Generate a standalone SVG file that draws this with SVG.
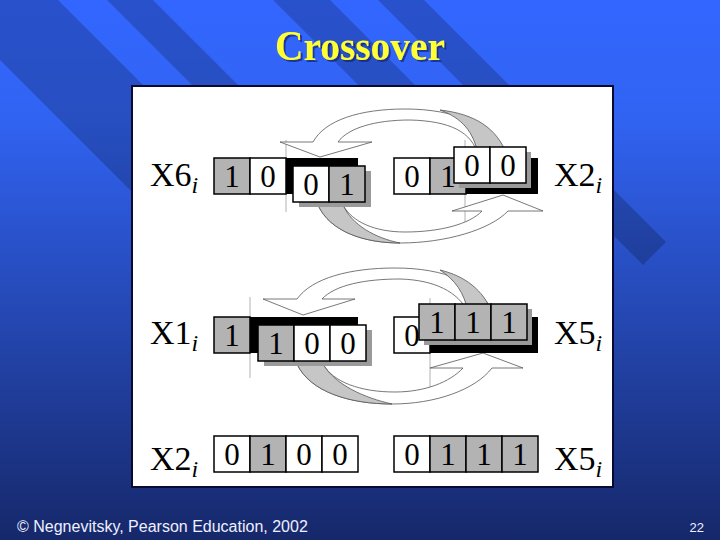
<svg xmlns="http://www.w3.org/2000/svg" width="720" height="540" viewBox="0 0 720 540">
<defs>
<linearGradient id="bg" x1="0" y1="0" x2="0" y2="1">
<stop offset="0" stop-color="#3366ff"/>
<stop offset="0.22" stop-color="#3163f2"/>
<stop offset="1" stop-color="#16286a"/>
</linearGradient>
<filter id="tshadow" x="-10%" y="-20%" width="130%" height="150%">
<feDropShadow dx="2" dy="2" stdDeviation="0.6" flood-color="#14246e" flood-opacity="0.7"/>
</filter>
<style>
.cw{fill:#ffffff;stroke:#000;stroke-width:1.5}
.cg{fill:#b3b3b3;stroke:#000;stroke-width:1.5}
.blk{fill:#000}
.shd{fill:#9a9a9a}
.dg{font-family:"Liberation Serif",serif;font-size:31px;fill:#000;text-anchor:middle}
.lbl{font-family:"Liberation Serif",serif;font-size:34px;fill:#000}
.sub{font-family:"Liberation Serif",serif;font-size:24px;font-style:italic}
.rib{fill:#fff;stroke:#555;stroke-width:0.8;stroke-linejoin:miter}
.ribg{fill:#c6c6c6;stroke:#555;stroke-width:0.8}
.cut{stroke:#a0a0a0;stroke-width:0.8;fill:none}
.stripe{fill:#000;opacity:0.2}
</style>
</defs>
<rect width="720" height="540" fill="url(#bg)"/>
<g id="stripes">
<polygon class="stripe" points="-60,0 58,0 483,425 424,484 -60,0"/>
<polygon class="stripe" points="107,0 153,0 530,377 507,400"/>
<polygon class="stripe" points="273,0 330,0 605,275 577,303"/>
<polygon class="stripe" points="378,0 424,0 666,242 643,265"/>
</g>
<text x="360" y="60" text-anchor="middle" font-family="Liberation Serif,serif" font-weight="bold" font-size="43" textLength="170" lengthAdjust="spacingAndGlyphs" fill="#ffff33" filter="url(#tshadow)">Crossover</text>
<rect id="panel" x="132" y="86" width="481" height="401" fill="#fff" stroke="#0a0a30" stroke-width="2"/>

<g id="connectors">
<path class="cut" d="M286,140 V212 M465,140 V222 M250,297 V378 M430,298 V395"/>
<path class="rib" d="M280,142 L313,142 C325,120 360,109 405,109 C455,109 495,125 507,155 L478,155 C472,132 450,121 410,120 C375,120 348,128 338,142 L372,142 L320,157 Z"/>
<path class="ribg" d="M507,155 C497,128 475,114 440,110 C462,118 474,132 478,155 Z"/>
<path class="rib" d="M318,205 C330,232 365,243 400,243 C445,243 490,230 508,211 L543,211 L503,195 L452,211 L482,211 C470,224 440,232 405,232 C375,232 352,222 343,205 Z"/>
<path class="ribg" d="M318,205 C330,232 365,243 400,243 C375,238 352,225 343,205 Z"/>
<path class="rib" d="M263,299 L297,299 C312,278 350,268 395,268 C445,268 480,283 492,312 L468,312 C458,292 435,280 400,279 C365,279 335,285 322,299 L355,299 L303,315 Z"/>
<path class="ribg" d="M492,312 C483,290 465,276 440,270 C455,280 464,292 468,312 Z"/>
<path class="rib" d="M297,364 C310,392 350,404 392,404 C435,404 475,390 492,368 L523,368 L483,353 L430,368 L463,368 C450,382 425,392 395,392 C360,392 333,382 323,364 Z"/>
<path class="ribg" d="M297,364 C310,392 350,404 392,404 C365,398 335,385 323,364 Z"/>
</g>

<g id="label-x6"><text class="lbl" x="150" y="186">X6<tspan class="sub" dy="7">i</tspan></text></g>
<g id="string-x6">
<rect class="cg" x="214" y="158" width="36" height="36"/><text class="dg" x="232" y="187">1</text>
<rect class="cw" x="250" y="158" width="36" height="36"/><text class="dg" x="268" y="187">0</text>
<rect class="blk" x="286" y="158" width="72" height="36"/>
<rect class="shd" x="299" y="171" width="72" height="36"/>
<rect class="cw" x="293" y="166" width="36" height="36"/><text class="dg" x="311" y="195">0</text>
<rect class="cg" x="329" y="166" width="36" height="36"/><text class="dg" x="347" y="195">1</text>
</g>

<g id="string-x2-top">
<rect class="cw" x="394" y="158" width="36" height="36"/><text class="dg" x="412" y="187">0</text>
<rect class="cg" x="430" y="158" width="36" height="36"/><text class="dg" x="448" y="187">1</text>
<rect class="blk" x="466" y="158" width="72" height="36"/>
<rect class="shd" x="459" y="152" width="72" height="36"/>
<rect class="cw" x="454" y="147" width="36" height="36"/><text class="dg" x="472" y="176">0</text>
<rect class="cw" x="490" y="147" width="36" height="36"/><text class="dg" x="508" y="176">0</text>
</g>
<g id="label-x2-top"><text class="lbl" x="554" y="186">X2<tspan class="sub" dy="7">i</tspan></text></g>

<g id="label-x1"><text class="lbl" x="150" y="344">X1<tspan class="sub" dy="7">i</tspan></text></g>
<g id="string-x1">
<rect class="cg" x="214" y="317" width="36" height="36"/><text class="dg" x="232" y="346">1</text>
<rect class="blk" x="250" y="317" width="108" height="36"/>
<rect class="shd" x="264" y="330" width="108" height="36"/>
<rect class="cg" x="258" y="325" width="36" height="36"/><text class="dg" x="276" y="354">1</text>
<rect class="cw" x="294" y="325" width="36" height="36"/><text class="dg" x="312" y="354">0</text>
<rect class="cw" x="330" y="325" width="36" height="36"/><text class="dg" x="348" y="354">0</text>
</g>

<g id="string-x5-mid">
<rect class="cw" x="394" y="317" width="36" height="36"/><text class="dg" x="412" y="346">0</text>
<rect class="blk" x="430" y="317" width="108" height="36"/>
<rect class="shd" x="424" y="309" width="108" height="36"/>
<rect class="cg" x="419" y="304" width="36" height="36"/><text class="dg" x="437" y="333">1</text>
<rect class="cg" x="455" y="304" width="36" height="36"/><text class="dg" x="473" y="333">1</text>
<rect class="cg" x="491" y="304" width="36" height="36"/><text class="dg" x="509" y="333">1</text>
</g>
<g id="label-x5-mid"><text class="lbl" x="554" y="344">X5<tspan class="sub" dy="7">i</tspan></text></g>

<g id="label-x2-bot"><text class="lbl" x="150" y="470">X2<tspan class="sub" dy="7">i</tspan></text></g>
<g id="string-x2-bot">
<rect class="cw" x="214" y="436" width="36" height="36"/><text class="dg" x="232" y="465">0</text>
<rect class="cg" x="250" y="436" width="36" height="36"/><text class="dg" x="268" y="465">1</text>
<rect class="cw" x="286" y="436" width="36" height="36"/><text class="dg" x="304" y="465">0</text>
<rect class="cw" x="322" y="436" width="36" height="36"/><text class="dg" x="340" y="465">0</text>
</g>
<g id="string-x5-bot">
<rect class="cw" x="394" y="436" width="36" height="36"/><text class="dg" x="412" y="465">0</text>
<rect class="cg" x="430" y="436" width="36" height="36"/><text class="dg" x="448" y="465">1</text>
<rect class="cg" x="466" y="436" width="36" height="36"/><text class="dg" x="484" y="465">1</text>
<rect class="cg" x="502" y="436" width="36" height="36"/><text class="dg" x="520" y="465">1</text>
</g>
<g id="label-x5-bot"><text class="lbl" x="554" y="470">X5<tspan class="sub" dy="7">i</tspan></text></g>

<text x="17" y="532" font-family="Liberation Sans,Arial,sans-serif" font-size="16" fill="#eef0ff">© Negnevitsky, Pearson Education, 2002</text>
<text x="704" y="532" text-anchor="end" font-family="Liberation Sans,Arial,sans-serif" font-size="13" fill="#eef0ff">22</text>
</svg>
